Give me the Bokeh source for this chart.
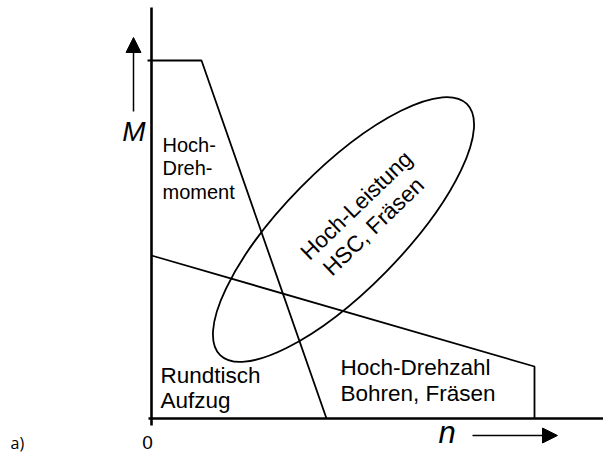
import math

from bokeh.core.properties import value
from bokeh.embed import file_html
from bokeh.models import Arrow, NormalHead, Range1d
from bokeh.plotting import figure
from bokeh.resources import INLINE

# Characteristic curves in the speed (n) / torque (M) plane, arbitrary units
torque_n = [-4, 50, 175]
torque_M = [358, 358, 0]

speed_n = [0, 383, 383]
speed_M = [163, 52, 0]

# Working region of high-performance machining (rotated ellipse)
region_n = [192]
region_M = [189]
region_major = [352]
region_minor = [120]
region_angle_deg = 45.5

label_font = value("Liberation Sans")

p = figure(
    width=603, height=454,
    x_range=Range1d(-151, 452), y_range=Range1d(-36, 418),
    output_backend="svg", toolbar_location=None,
    min_border=0, outline_line_color=None,
)
p.axis.visible = False
p.grid.visible = False
p.background_fill_color = "white"
p.border_fill_color = "white"

# Axes drawn as heavy lines
p.line([0, 0], [-7, 411], line_color="black", line_width=2.6)
p.line([-3, 452], [0, 0], line_color="black", line_width=2.6)

# Torque-limited and speed-limited curves
p.line(torque_n, torque_M, line_color="black", line_width=1.8)
p.line(speed_n, speed_M, line_color="black", line_width=1.8)

# High-performance region
p.ellipse(x=region_n, y=region_M, width=region_major, height=region_minor,
          angle=math.radians(region_angle_deg),
          fill_color=None, line_color="black", line_width=1.8)

# Axis arrows
p.add_layout(Arrow(end=NormalHead(size=15, fill_color="black", line_color="black"),
                   x_start=-18, y_start=307, x_end=-18, y_end=381,
                   line_color="black", line_width=1.5))
p.add_layout(Arrow(end=NormalHead(size=15, fill_color="black", line_color="black"),
                   x_start=321, y_start=-17, x_end=406, y_end=-17,
                   line_color="black", line_width=1.5))

# Axis symbols
p.text(x=[-6], y=[287], text=["M"], text_font=label_font, text_font_size="28px",
       text_font_style="italic", text_align="right", text_baseline="alphabetic")
p.text(x=[287], y=[-14], text=["n"], text_font=label_font, text_font_size="31px",
       text_font_style="italic", text_align="left", text_baseline="alphabetic")
p.text(x=[-4], y=[-24], text=["0"], text_font=label_font, text_font_size="19px",
       text_align="center", text_baseline="alphabetic")
p.text(x=[-141], y=[-24], text=["a)"], text_font=value("Open Sans"),
       text_font_size="16px", text_align="left", text_baseline="alphabetic")

# Region labels
p.text(x=[11, 11, 11], y=[274, 251, 227], text=["Hoch-", "Dreh-", "moment"],
       text_font=label_font, text_font_size="20px", text_baseline="alphabetic")

size = "22.5px"
p.text(x=[9, 9], y=[43, 18], text=["Rundtisch", "Aufzug"],
       text_font=label_font, text_font_size=size, text_baseline="alphabetic")
p.text(x=[189, 189], y=[51, 25], text=["Hoch-Drehzahl", "Bohren, Fräsen"],
       text_font=label_font, text_font_size=size, text_baseline="alphabetic")
p.text(x=[205, 222], y=[213, 192], text=["Hoch-Leistung", "HSC, Fräsen"],
       angle=math.radians(44),
       text_font=label_font, text_font_size=size,
       text_align="center", text_baseline="middle")

open("out.html", "w").write(file_html(p, INLINE))
